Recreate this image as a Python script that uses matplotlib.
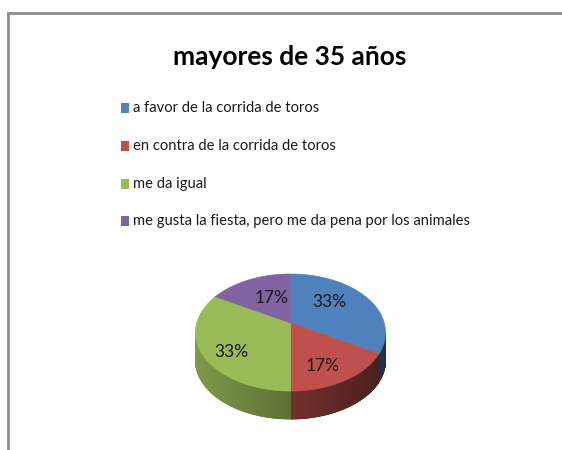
import numpy as np
import matplotlib
matplotlib.use("Agg")
import matplotlib.pyplot as plt
from matplotlib.patches import Polygon, Rectangle
from matplotlib.lines import Line2D

title = "mayores de 35 años"
categories = ["a favor de la corrida de toros",
              "en contra de la corrida de toros",
              "me da igual",
              "me gusta la fiesta, pero me da pena por los animales"]
values = [2, 1, 2, 1]
colors = ["#4F81BD", "#C0504D", "#9BBB59", "#8064A2"]

FAM = ["Lato", "DejaVu Sans"]

W, H = 562, 450
fig = plt.figure(figsize=(W / 100, H / 100), dpi=100)
ax = fig.add_axes([0, 0, 1, 1])
ax.set_xlim(0, W)
ax.set_ylim(H, 0)
ax.axis("off")

# frame
ax.add_line(Line2D([7.5, W], [13, 13], color="#8c8c8c", lw=2.0))
ax.add_line(Line2D([7.5, 7.5], [13, H], color="#8c8c8c", lw=2.0))

ax.text(290, 65, title, ha="center", va="baseline", fontsize=19,
        fontweight="bold", family=FAM, color="black")

# legend
ys = [108, 146, 184, 221]
for y, lab, c in zip(ys, categories, colors):
    ax.add_patch(Rectangle((121, y - 5), 8, 10, facecolor=c, edgecolor="none"))
    ax.text(133, y, lab, ha="left", va="center", fontsize=10.6, family=FAM,
            color="#1a1a1a")

# 3D pie geometry (perspective-like projection of a unit disc)
cx, cy, rx, ry, depth = 290.5, 332.5, 95, 58.5, 28
y0 = 0.162
s0 = np.sqrt(1 - y0 ** 2)


def proj(X, Y):
    d = 1 + y0 * Y
    Xp = X * s0 / d
    Yp = (Y + y0) / d
    return cx + rx * Xp, cy - ry * Yp


total = float(sum(values))
fracs = [v / total for v in values]
start = 90.0
angles = []
for f in fracs:
    a0 = start
    a1 = start - 360 * f
    angles.append((a0, a1))
    start = a1


def shade(x):
    return 0.82 - 0.44 * (x - 195) / 190


# side walls (front half)
for (a0, a1), c in zip(angles, colors):
    th = np.linspace(np.radians(a0), np.radians(a1), 400)
    Y = np.sin(th)
    mask = Y < -y0 + 1e-9
    if not mask.any():
        continue
    th = th[mask]
    px, py = proj(np.cos(th), np.sin(th))
    base = np.array(matplotlib.colors.to_rgb(c))
    for i in range(len(px) - 1):
        xm = 0.5 * (px[i] + px[i + 1])
        col = np.clip(base * shade(xm), 0, 1)
        poly = [(px[i], py[i]), (px[i + 1], py[i + 1]),
                (px[i + 1], py[i + 1] + depth), (px[i], py[i] + depth)]
        ax.add_patch(Polygon(poly, closed=True, facecolor=col,
                             edgecolor=col, lw=0.6))

# top faces
acx, acy = proj(0.0, 0.0)
for (a0, a1), c in zip(angles, colors):
    th = np.linspace(np.radians(a0), np.radians(a1), 200)
    px, py = proj(np.cos(th), np.sin(th))
    pts = [(acx, acy)] + list(zip(px, py))
    ax.add_patch(Polygon(pts, closed=True, facecolor=c, edgecolor=c, lw=0.5))

# percentage labels
lab_pos = [(329, 302), (323, 366), (231, 352), (272, 298)]
for (x, y), v in zip(lab_pos, values):
    ax.text(x, y, f"{round(100 * v / total):.0f}%", ha="center", va="center",
            fontsize=12.5, family=FAM, color="#1a1a1a")

fig.savefig("out.png", dpi=100)
